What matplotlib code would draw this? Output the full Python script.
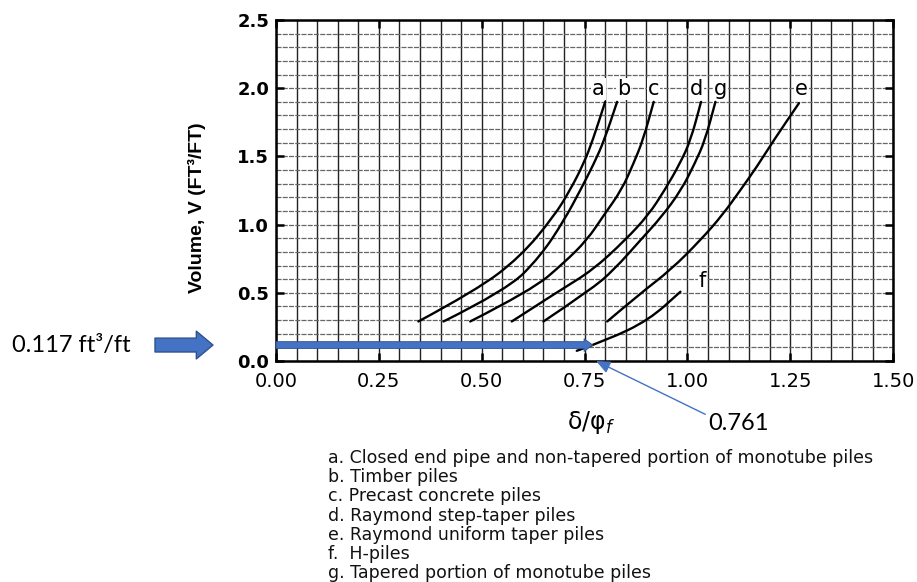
import numpy as np
import matplotlib
matplotlib.use("Agg")
import matplotlib.pyplot as plt
from matplotlib.path import Path
from matplotlib.patches import PathPatch

# ── Data ──────────────────────────────────────────────────────────────────────

# curve points: delta/phi_f (x) vs volume V (ft^3/ft)
a_x = [0.346, 0.488, 0.594, 0.675, 0.715, 0.748, 0.770, 0.800]
a_v = [0.29, 0.52, 0.765, 1.058, 1.254, 1.449, 1.62, 1.90]

b_x = [0.407, 0.561, 0.642, 0.700, 0.740, 0.773, 0.798, 0.829]
b_v = [0.29, 0.52, 0.765, 1.03, 1.254, 1.449, 1.62, 1.90]

c_x = [0.472, 0.622, 0.700, 0.756, 0.797, 0.840, 0.869, 0.892, 0.918]
c_v = [0.29, 0.52, 0.72, 0.887, 1.07, 1.254, 1.449, 1.62, 1.90]

d_x = [0.573, 0.691, 0.770, 0.849, 0.905, 0.945, 0.982, 1.008, 1.033]
d_v = [0.29, 0.52, 0.667, 0.887, 1.07, 1.254, 1.449, 1.62, 1.90]

e_x = [0.805, 0.886, 0.959, 1.032, 1.085, 1.129, 1.170, 1.210, 1.271]
e_v = [0.29, 0.497, 0.667, 0.887, 1.07, 1.254, 1.43, 1.62, 1.89]

f_x = [0.731, 0.805, 0.906, 0.983]
f_v = [0.075, 0.154, 0.30, 0.508]

g_x = [0.650, 0.764, 0.821, 0.886, 0.938, 0.985, 1.018, 1.043, 1.068]
g_v = [0.29, 0.52, 0.667, 0.887, 1.06, 1.254, 1.449, 1.62, 1.90]

letters = ["a", "b", "c", "d", "e", "f", "g"]
letter_x = [0.784, 0.845, 0.918, 1.022, 1.277, 1.036, 1.080]
letter_v = [1.95, 1.95, 1.95, 1.95, 1.95, 0.54, 1.95]

descriptions = [
    "a. Closed end pipe and non-tapered portion of monotube piles",
    "b. Timber piles",
    "c. Precast concrete piles",
    "d. Raymond step-taper piles",
    "e. Raymond uniform taper piles",
    "f.  H-piles",
    "g. Tapered portion of monotube piles",
]

x_ticks = [0.00, 0.25, 0.50, 0.75, 1.00, 1.25, 1.50]
y_ticks = [0.0, 0.5, 1.0, 1.5, 2.0, 2.5]

v_target = 0.117    # ft^3/ft
ratio_read = 0.761  # delta/phi_f

BLUE = "#4472C4"
BLUE_EDGE = "#2F528F"


def smooth_curve(ax, xs, vs, **kw):
    """Draw a hand-drawn looking curve: quadratic Bezier pieces through the read points."""
    pts = list(zip(xs, vs))
    verts = [pts[0]]
    codes = [Path.MOVETO]
    for i in range(1, len(pts) - 1):
        mid = ((pts[i][0] + pts[i + 1][0]) / 2, (pts[i][1] + pts[i + 1][1]) / 2)
        verts += [pts[i], mid]
        codes += [Path.CURVE3, Path.CURVE3]
    verts.append(pts[-1])
    codes.append(Path.LINETO)
    ax.add_patch(PathPatch(Path(verts, codes), fc="none", **kw))


# ── Figure ────────────────────────────────────────────────────────────────────

fig = plt.figure(figsize=(9.17, 5.82), dpi=100)
ax = fig.add_axes([0.301, 0.3797, 0.673, 0.5859])

ax.set_xlim(0, 1.5)
ax.set_ylim(0, 2.5)

# chart-paper grid
ax.set_xticks(np.arange(0, 1.5001, 0.05), minor=True)
ax.set_yticks(np.arange(0, 2.5001, 0.1), minor=True)
ax.xaxis.grid(True, which="both", color="#222222", lw=1.0)
ax.yaxis.grid(True, which="both", color="#666666", lw=0.9, ls=(0, (4, 1)))
ax.set_axisbelow(True)

for s in ax.spines.values():
    s.set_linewidth(1.8)

ax.tick_params(which="minor", length=0)
ax.tick_params(which="major", direction="in", length=6, width=1.8,
               top=True, right=True, labeltop=False, labelright=False)

ax.set_xticks(x_ticks)
ax.set_xticklabels([f"{t:.2f}" for t in x_ticks], fontsize=14)
ax.set_yticks(y_ticks)
ax.set_yticklabels([f"{t:.1f}" for t in y_ticks], fontsize=13, fontweight="bold")
ax.tick_params(axis="x", pad=8)
ax.tick_params(axis="y", pad=5)

ax.set_ylabel("Volume, V (FT³/FT)", family="Liberation Sans", fontsize=14,
              fontweight="bold", labelpad=6)
ax.yaxis.set_label_coords(-0.113, 0.45)

# curves
curves = [(a_x, a_v), (b_x, b_v), (c_x, c_v), (d_x, d_v),
          (e_x, e_v), (f_x, f_v), (g_x, g_v)]
for xs, vs in curves:
    smooth_curve(ax, xs, vs, ec="black", lw=1.7, capstyle="round", zorder=3)

for lab, lx, lv in zip(letters, letter_x, letter_v):
    ax.text(lx, lv, lab, fontsize=15, ha="center", va="baseline", zorder=4,
            bbox=dict(boxstyle="square,pad=0.05", fc="white", ec="none"))

# blue reading line at V = 0.117
ax.annotate("", xy=(ratio_read + 0.009, v_target), xytext=(0.0, v_target),
            arrowprops=dict(arrowstyle="simple,head_length=0.45,head_width=0.65,tail_width=0.35",
                            mutation_scale=14, fc=BLUE, ec=BLUE_EDGE, lw=0.6,
                            shrinkA=0, shrinkB=0),
            zorder=5)

# block arrow on the left
ax.annotate("", xy=(213, v_target), xytext=(155, v_target),
            xycoords=("figure pixels", "data"), textcoords=("figure pixels", "data"),
            arrowprops=dict(arrowstyle="simple,head_length=0.6,head_width=1.0,tail_width=0.5",
                            mutation_scale=20, fc=BLUE, ec=BLUE_EDGE, lw=1.0,
                            shrinkA=0, shrinkB=0),
            annotation_clip=False)
ax.annotate(f"{v_target} ft³/ft", xy=(12, v_target),
            xycoords=("figure pixels", "data"), family="Lato", fontsize=17,
            ha="left", va="center", annotation_clip=False)

# thin arrow pointing at 0.761 on the x axis
ax.annotate(f"{ratio_read}", xy=(ratio_read + 0.017, 0.0),
            xytext=(708, 159), textcoords="figure pixels",
            family="Lato", fontsize=17, ha="left", va="center",
            arrowprops=dict(arrowstyle="-|>,head_length=0.5,head_width=0.22",
                            color=BLUE, lw=1.0, shrinkA=0, shrinkB=0,
                            relpos=(0.0, 0.85)),
            annotation_clip=False)

fig.text(591, 160, r"δ/φ$_f$", transform=None, fontsize=17,
         ha="center", va="center")

# key below the chart
y0 = 582 - 458
for i, line in enumerate(descriptions):
    fig.text(328, y0 - i * 19.2, line, transform=None, fontsize=12.5,
             ha="left", va="center", color="#111111")

fig.savefig("out.png", dpi=100)
